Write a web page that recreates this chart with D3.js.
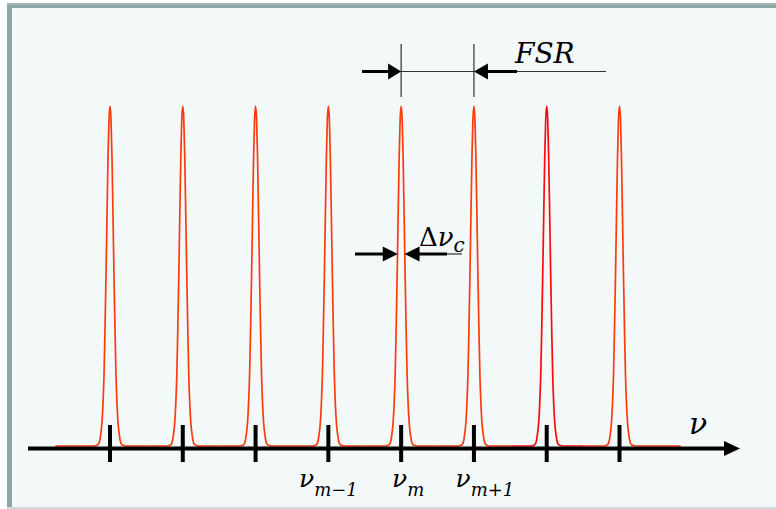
<!DOCTYPE html>
<html>
<head>
<meta charset="utf-8">
<script src="https://cdn.jsdelivr.net/npm/d3@7"></script>
<style>
  html, body { margin: 0; padding: 0; background: #fff; }
  svg { display: block; }
</style>
</head>
<body>
<div id="chart"></div>
<script>
// Resonance orders relative to m (in units of FSR)
const peakOrders = [-4, -3, -2, -1, 0, 1, 2, 3];
const peakColors = ['#ff3a0c', '#ff3a0c', '#ff3a0c', '#ff3a0c', '#ff3a0c', '#ff3a0c', '#ff0a0a', '#ff3a0c'];
const profileOffset = [0, 0.014, 0.027, 0.041, 0.055, 0.069, 0.082, 0.096, 0.11, 0.124, 0.137, 0.151, 0.179, 0.22];
const profileLevel  = [1, 0.96, 0.85, 0.68, 0.5, 0.34, 0.21, 0.125, 0.07, 0.04, 0.02, 0.008, 0.002, 0];
// ends of the drawn spectrum
const spectrumStart = -4.75;
const spectrumEnd = 3.84;
// axis tick labels
const tickLabels = [
  { order: -1, sub: 'm−1', dx: 0 },
  { order: 0, sub: 'm', dx: 7 },
  { order: 1, sub: 'm+1', dx: 11 }
];

const width = 776, height = 509;

const svg = d3.select('#chart').append('svg')
  .attr('width', width)
  .attr('height', height);

// frame
svg.append('rect').attr('x', 7).attr('y', 3).attr('width', width - 7).attr('height', 505).attr('fill', '#8fa6a7');
svg.append('rect').attr('x', 7).attr('y', 3).attr('width', width - 7).attr('height', 1.5).attr('fill', '#a9bcbc');
svg.append('rect').attr('x', 12).attr('y', 8).attr('width', width - 12).attr('height', 499).attr('fill', '#f3f8f9');
svg.append('rect').attr('x', 7).attr('y', 507).attr('width', width - 7).attr('height', 2).attr('fill', '#cddbdb');

// scales
const x = d3.scaleLinear().domain([-4, 3]).range([110, 619.5]);
const y = d3.scaleLinear().domain([0, 1]).range([446, 106]);

const line = d3.line()
  .x(d => x(d[0]))
  .y(d => y(d[1]))
  .curve(d3.curveMonotoneX);

// peaks
peakOrders.forEach((c, i) => {
  const left = i === 0 ? spectrumStart : c - 0.5;
  const right = i === peakOrders.length - 1 ? spectrumEnd : c + 0.5;
  const pts = [[left, 0]];
  for (let k = profileOffset.length - 1; k > 0; k--) pts.push([c - profileOffset[k], profileLevel[k]]);
  pts.push([c, profileLevel[0]]);
  for (let k = 1; k < profileOffset.length; k++) pts.push([c + profileOffset[k], profileLevel[k]]);
  pts.push([right, 0]);
  svg.append('path')
    .attr('d', line(pts))
    .attr('fill', 'none')
    .attr('stroke', peakColors[i])
    .attr('stroke-width', 1.7);
});

// frequency axis
const axisY = 448.5;
svg.append('line')
  .attr('x1', 28).attr('x2', 726)
  .attr('y1', axisY).attr('y2', axisY)
  .attr('stroke', '#000').attr('stroke-width', 4);
svg.append('path')
  .attr('d', `M724,${axisY - 7.5}L740,${axisY}L724,${axisY + 7.5}Z`)
  .attr('fill', '#000');

svg.selectAll('line.tick')
  .data(peakOrders)
  .enter().append('line')
  .attr('class', 'tick')
  .attr('x1', d => x(d)).attr('x2', d => x(d))
  .attr('y1', 425).attr('y2', 462)
  .attr('stroke', '#000').attr('stroke-width', 4);

const serif = "'DejaVu Serif', serif";

const lbl = svg.selectAll('text.tlabel')
  .data(tickLabels)
  .enter().append('text')
  .attr('class', 'tlabel')
  .attr('x', d => x(d.order) + d.dx)
  .attr('y', 487)
  .attr('text-anchor', 'middle')
  .attr('font-family', serif)
  .attr('font-style', 'italic')
  .attr('fill', '#000');
lbl.append('tspan').attr('font-size', 25).text('ν');
lbl.append('tspan').attr('font-size', 18).attr('dy', 9).text(d => d.sub);

svg.append('text')
  .attr('x', 689).attr('y', 434)
  .attr('font-family', serif).attr('font-style', 'italic')
  .attr('font-size', 30)
  .text('ν');

// FSR marker
const fsrY = 71.5;
[0, 1].forEach(o => {
  svg.append('line')
    .attr('x1', x(o)).attr('x2', x(o))
    .attr('y1', 44).attr('y2', 97)
    .attr('stroke', '#333').attr('stroke-width', 1.2);
});
svg.append('line').attr('x1', 362).attr('x2', 606).attr('y1', fsrY).attr('y2', fsrY)
  .attr('stroke', '#333').attr('stroke-width', 1.2);
svg.append('line').attr('x1', 362).attr('x2', x(0) - 10).attr('y1', fsrY).attr('y2', fsrY)
  .attr('stroke', '#000').attr('stroke-width', 3);
svg.append('path')
  .attr('d', `M${x(0) - 13},${fsrY - 8}L${x(0)},${fsrY}L${x(0) - 13},${fsrY + 8}Z`)
  .attr('fill', '#000');
svg.append('line').attr('x1', x(1) + 10).attr('x2', 517).attr('y1', fsrY).attr('y2', fsrY)
  .attr('stroke', '#000').attr('stroke-width', 3);
svg.append('path')
  .attr('d', `M${x(1) + 14},${fsrY - 8}L${x(1)},${fsrY}L${x(1) + 14},${fsrY + 8}Z`)
  .attr('fill', '#000');
svg.append('text')
  .attr('x', 515).attr('y', 63)
  .attr('font-family', serif).attr('font-style', 'italic')
  .attr('font-size', 28)
  .text('FSR');

// linewidth marker
const lwY = 254;
const hw = 3.4;
svg.append('line').attr('x1', 355).attr('x2', x(0) - hw - 10).attr('y1', lwY).attr('y2', lwY)
  .attr('stroke', '#000').attr('stroke-width', 3);
svg.append('path')
  .attr('d', `M${x(0) - hw - 15},${lwY - 7.5}L${x(0) - hw},${lwY}L${x(0) - hw - 15},${lwY + 7.5}Z`)
  .attr('fill', '#000');
svg.append('line').attr('x1', x(0) + hw + 10).attr('x2', 447).attr('y1', lwY).attr('y2', lwY)
  .attr('stroke', '#000').attr('stroke-width', 3);
svg.append('line').attr('x1', 447).attr('x2', 462).attr('y1', lwY).attr('y2', lwY)
  .attr('stroke', '#333').attr('stroke-width', 1.2);
svg.append('path')
  .attr('d', `M${x(0) + hw + 15},${lwY - 7.5}L${x(0) + hw},${lwY}L${x(0) + hw + 15},${lwY + 7.5}Z`)
  .attr('fill', '#000');
const dl = svg.append('text')
  .attr('x', 419).attr('y', 246)
  .attr('font-family', serif)
  .attr('fill', '#000');
dl.append('tspan').attr('font-size', 26).text('Δ');
dl.append('tspan').attr('font-size', 26).attr('font-style', 'italic').text('ν');
dl.append('tspan').attr('font-size', 20).attr('font-style', 'italic').attr('dy', 6).text('c');
</script>
</body>
</html>
